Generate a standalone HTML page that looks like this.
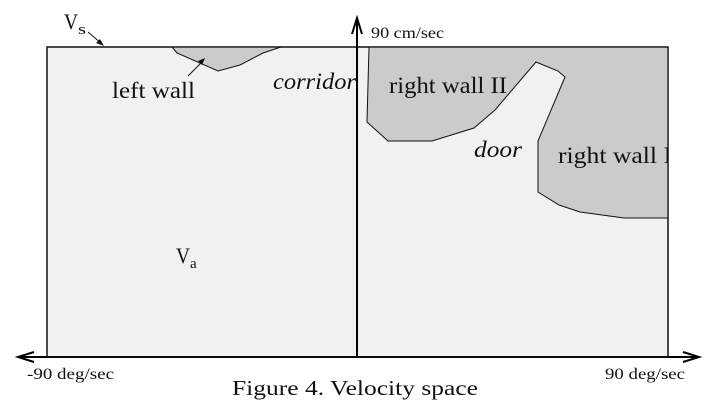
<!DOCTYPE html>
<html><head><style>body{margin:0;background:#fff}svg{display:block}text{font-family:"Liberation Serif",serif;fill:#111}</style></head><body>
<svg width="711" height="404" viewBox="0 0 711 404" xmlns="http://www.w3.org/2000/svg">
<defs><clipPath id="c"><rect x="47" y="47" width="621" height="310"/></clipPath></defs>
<rect x="47" y="47" width="621" height="310" fill="#f1f1f1" stroke="#111" stroke-width="1.3"/>
<polygon points="172,47 177,53 218,71 240,65 263,53 281,47" fill="#cbcbcb" stroke="#111" stroke-width="1"/>
<polygon points="369,47 367,122 388,141 432,141 474,128 495,110 536,62 558,71 565,77 538,141 538,192 559,205 580,212 624,218 668,218 668,47" fill="#cbcbcb" stroke="#111" stroke-width="1"/>
<line x1="357" y1="357" x2="357" y2="20" stroke="#000" stroke-width="2"/>
<polyline points="352,34 357,18 362,34" fill="none" stroke="#000" stroke-width="2"/>
<line x1="20" y1="357" x2="697" y2="357" stroke="#000" stroke-width="2"/>
<polyline points="34,352 18,357 34,362" fill="none" stroke="#000" stroke-width="2"/>
<polyline points="683,352 699,357 683,362" fill="none" stroke="#000" stroke-width="2"/>
<line x1="88" y1="32" x2="102" y2="44" stroke="#111" stroke-width="1"/>
<polygon points="104,46 96,43 100,39" fill="#111"/>
<line x1="188" y1="76" x2="203" y2="61" stroke="#111" stroke-width="1"/>
<polygon points="205,58 198,61 202,65" fill="#111"/>
<text x="64" y="29" font-size="22" textLength="14" lengthAdjust="spacingAndGlyphs">V</text><text x="78" y="34" font-size="15" textLength="8" lengthAdjust="spacingAndGlyphs">s</text>
<text x="112" y="98" font-size="23" textLength="83" lengthAdjust="spacingAndGlyphs">left wall</text>
<text x="273" y="89" font-size="23" font-style="italic" textLength="83" lengthAdjust="spacingAndGlyphs">corridor</text>
<text x="371" y="38" font-size="16" textLength="73" lengthAdjust="spacingAndGlyphs">90 cm/sec</text>
<text x="389" y="93" font-size="23" textLength="118" lengthAdjust="spacingAndGlyphs">right wall II</text>
<text x="474" y="157" font-size="23" font-style="italic" textLength="48" lengthAdjust="spacingAndGlyphs">door</text>
<text x="558" y="163" font-size="23" textLength="114" lengthAdjust="spacingAndGlyphs" clip-path="url(#c)">right wall I</text>
<rect x="47" y="47" width="621" height="310" fill="none" stroke="#111" stroke-width="1.3"/>
<line x1="357" y1="357" x2="357" y2="47" stroke="#000" stroke-width="2"/>
<text x="176" y="263" font-size="22" textLength="14" lengthAdjust="spacingAndGlyphs">V</text><text x="190" y="268" font-size="15">a</text>
<text x="27" y="379" font-size="16" textLength="87" lengthAdjust="spacingAndGlyphs">-90 deg/sec</text>
<text x="605" y="379" font-size="16" textLength="80" lengthAdjust="spacingAndGlyphs">90 deg/sec</text>
<text x="232" y="395" font-size="21" textLength="246" lengthAdjust="spacingAndGlyphs">Figure 4.  Velocity space</text>
</svg>
</body></html>
